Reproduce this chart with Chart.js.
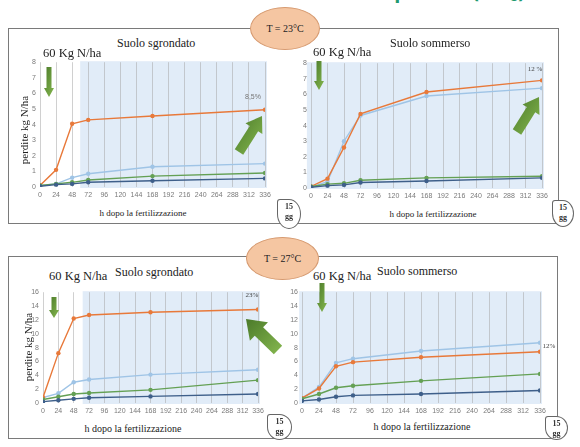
<!DOCTYPE html>
<html lang="it">
<head>
<meta charset="UTF-8">
<title>Perdite kg N/ha - 23°C e 27°C</title>
<script src="https://cdn.jsdelivr.net/npm/chart.js"></script>
<style>
    * { margin: 0; padding: 0; box-sizing: border-box; }
    body { background: #fff; width: 580px; height: 447px; overflow: hidden; }
    #stage { position: relative; width: 580px; height: 447px; overflow: hidden; font-family: 'Liberation Serif', serif; color: #222; }
    .abs { position: absolute; }
    .box { position: absolute; border: 1px solid #7a7a7a; }
    .head { position: absolute; right: 55px; top: -19px; font: bold 20px 'Open Sans', sans-serif; line-height: 20px; color: #1f9a70; white-space: nowrap; }
    .temp { position: absolute; border: 1px solid #d69a70; background: #f5c6a2; border-radius: 50%; font-size: 10px; display: flex; align-items: center; justify-content: center; }
    .lbl { position: absolute; white-space: nowrap; line-height: 1; }
    .dose { font-size: 12.5px; }
    .title { font-size: 12px; }
    .ytitle { font-size: 11px; transform: translate(-50%, -50%) rotate(-90deg); }
    .xtitle { transform: translate(-50%, -50%); }
    .pct { font-size: 7px; transform: translate(-50%, -50%); }
    .badge { position: absolute; background: #fff; border: 1px solid #666; border-radius: 3px 50% 50% 50%; font-size: 8px; font-weight: bold; text-align: center; line-height: 10px; padding-top: 2px; color: #333; }
    canvas { position: absolute; }
</style>
</head>
<body>
<div id="stage">
    <div class="head">Volatilizzazione: perdite (NH₃)</div>

    <div class="box" style="left:8px;top:28px;width:551px;height:196px"></div>
    <div class="box" style="left:8px;top:256px;width:550px;height:183px"></div>

    <canvas id="c23sgr" width="251" height="151" style="left:24px;top:54px"></canvas>
    <canvas id="c23som" width="257" height="151" style="left:295px;top:55px"></canvas>
    <canvas id="c27sgr" width="241" height="137" style="left:27px;top:284px"></canvas>
    <canvas id="c27som" width="264" height="137" style="left:286px;top:284px"></canvas>

    <div class="temp" style="left:250px;top:7px;width:70px;height:43px">T = 23°C</div>
    <div class="temp" style="left:246px;top:237px;width:73px;height:43px">T = 27°C</div>

    <!-- 23 °C -->
    <div class="lbl title" style="left:117px;top:37px">Suolo sgrondato</div>
    <div class="lbl dose" style="left:43px;top:47px">60 Kg N/ha</div>
    <div class="lbl title" style="left:390px;top:37px">Suolo sommerso</div>
    <div class="lbl dose" style="left:313px;top:46px">60 Kg N/ha</div>
    <div class="lbl ytitle" style="left:24px;top:130px">perdite kg N/ha</div>
    <div class="lbl xtitle" style="left:143px;top:213px;font-size:9px">h dopo la fertilizzazione</div>
    <div class="lbl xtitle" style="left:433px;top:214px;font-size:9px">h dopo la fertilizzazione</div>
    <div class="lbl pct" style="left:253px;top:96px;font-family:'Liberation Sans',sans-serif;color:#777">8,5%</div>
    <div class="lbl pct" style="left:535px;top:69px;color:#444">12 %</div>
    <div class="badge" style="left:277px;top:199px;width:24px;height:30px">15<br>gg</div>
    <div class="badge" style="left:552px;top:200px;width:22px;height:27px">15<br>gg</div>

    <!-- 27 °C -->
    <div class="lbl dose" style="left:49px;top:270px">60 Kg N/ha</div>
    <div class="lbl title" style="left:115px;top:266px">Suolo sgrondato</div>
    <div class="lbl dose" style="left:313px;top:270px">60 Kg N/ha</div>
    <div class="lbl title" style="left:377px;top:265px">Suolo sommerso</div>
    <div class="lbl ytitle" style="left:28px;top:347px">perdite kg N/ha</div>
    <div class="lbl xtitle" style="left:133px;top:429px;font-size:10px">h dopo la fertilizzazione</div>
    <div class="lbl xtitle" style="left:422px;top:427px;font-size:10px">h dopo la fertilizzazione</div>
    <div class="lbl pct" style="left:252px;top:295px;color:#444">23%</div>
    <div class="lbl pct" style="left:549px;top:346px;color:#444">12%</div>
    <div class="badge" style="left:267px;top:414px;width:25px;height:26px">15<br>gg</div>
    <div class="badge" style="left:545px;top:416px;width:23px;height:24px">15<br>gg</div>

    <svg id="arrows" class="abs" width="580" height="447" style="left:0;top:0">
        <defs>
            <linearGradient id="grn" x1="0" y1="0" x2="1" y2="1">
                <stop offset="0" stop-color="#4b7a2a"/>
                <stop offset="1" stop-color="#86b84f"/>
            </linearGradient>
        </defs>
    </svg>
</div>

<script>
    // ore dopo la fertilizzazione
    const hours = [0, 24, 48, 72, 168, 336];

    // T = 23 °C, suolo sgrondato
    const sgr23Arancio = [0.1, 1.1, 4.05, 4.3, 4.55, 4.95];
    const sgr23Azzurro = [0.1, 0.2, 0.6, 0.85, 1.3, 1.5];
    const sgr23Verde = [0.1, 0.2, 0.3, 0.45, 0.7, 0.9];
    const sgr23Blu = [0.05, 0.15, 0.2, 0.3, 0.4, 0.55];

    // T = 23 °C, suolo sommerso
    const som23Arancio = [0.1, 0.6, 2.6, 4.75, 6.15, 6.9];
    const som23Azzurro = [0.05, 0.4, 3.0, 4.65, 5.9, 6.4];
    const som23Verde = [0.1, 0.25, 0.3, 0.5, 0.65, 0.75];
    const som23Blu = [0.05, 0.15, 0.2, 0.35, 0.45, 0.65];

    // T = 27 °C, suolo sgrondato
    const sgr27Arancio = [0.8, 7.2, 12.2, 12.7, 13.1, 13.5];
    const sgr27Azzurro = [0.8, 1.4, 3.0, 3.4, 4.1, 4.8];
    const sgr27Verde = [0.5, 0.9, 1.3, 1.45, 1.9, 3.3];
    const sgr27Blu = [0.2, 0.4, 0.6, 0.75, 0.95, 1.3];

    // T = 27 °C, suolo sommerso
    const som27Arancio = [0.7, 2.1, 5.3, 5.9, 6.6, 7.4];
    const som27Azzurro = [0.7, 2.3, 5.8, 6.4, 7.5, 8.7];
    const som27Verde = [0.6, 1.3, 2.2, 2.5, 3.2, 4.2];
    const som27Blu = [0.3, 0.5, 0.9, 1.1, 1.3, 1.8];

    const ARANCIO = '#e8793a', AZZURRO = '#9fc4e6', VERDE = '#64a054', BLU = '#3e5f8a';

    // fondo azzurro dietro la griglia
    const shadePlugin = {
        id: 'shade',
        beforeDraw(chart, args, opts) {
            const a = chart.chartArea;
            const x0 = chart.scales.x.getPixelForValue(opts.from);
            const ctx = chart.ctx;
            ctx.save();
            ctx.fillStyle = '#e1ecf8';
            ctx.fillRect(x0, a.top - 1, a.right + 2 - x0, a.bottom - a.top + 2);
            ctx.restore();
        }
    };

    function serie(values, color) {
        return {
            data: hours.map((h, i) => ({ x: h, y: values[i] })),
            borderColor: color,
            backgroundColor: color,
            borderWidth: 1.4,
            pointRadius: 2.2,
            pointBorderWidth: 0,
            tension: 0
        };
    }

    function lineChart(id, arancio, azzurro, verde, blu, yMax, yStep, shadeFrom) {
        new Chart(document.getElementById(id), {
            type: 'line',
            data: {
                datasets: [serie(blu, BLU), serie(verde, VERDE), serie(arancio, ARANCIO), serie(azzurro, AZZURRO)]
            },
            options: {
                responsive: false,
                animation: false,
                layout: { padding: { top: 4, right: 10, left: 0, bottom: 0 } },
                plugins: { legend: { display: false }, tooltip: { enabled: false }, shade: { from: shadeFrom } },
                scales: {
                    x: {
                        type: 'linear', min: 0, max: 336,
                        ticks: { stepSize: 24, color: '#7a7a7a', font: { size: 7 }, padding: 4, maxRotation: 0, autoSkip: false },
                        grid: { color: 'rgba(170,170,170,0.55)', drawTicks: false },
                        border: { display: false },
                        afterFit(s) { s.height = 18; }
                    },
                    y: {
                        min: 0, max: yMax,
                        ticks: { stepSize: yStep, color: '#7a7a7a', font: { size: 7 }, padding: 4 },
                        grid: { display: false, drawTicks: false },
                        border: { display: false },
                        afterFit(s) { s.width = 16; }
                    }
                }
            },
            plugins: [shadePlugin]
        });
    }

    Chart.defaults.font.family = "'Liberation Sans', sans-serif";

    lineChart('c23sgr', sgr23Arancio, sgr23Azzurro, sgr23Verde, sgr23Blu, 8, 1, 60);
    lineChart('c23som', som23Arancio, som23Azzurro, som23Verde, som23Blu, 8, 1, -6);
    lineChart('c27sgr', sgr27Arancio, sgr27Azzurro, sgr27Verde, sgr27Blu, 16, 2, 62);
    lineChart('c27som', som27Arancio, som27Azzurro, som27Verde, som27Blu, 16, 2, -4);

    // frecce verdi
    function arrow(x1, y1, x2, y2, shaft, head, headLen) {
        const dx = x2 - x1, dy = y2 - y1, len = Math.hypot(dx, dy);
        const ux = dx / len, uy = dy / len, nx = -uy, ny = ux;
        const bx = x2 - ux * headLen, by = y2 - uy * headLen;
        const p = [
            [x1 + nx * shaft / 2, y1 + ny * shaft / 2],
            [bx + nx * shaft / 2, by + ny * shaft / 2],
            [bx + nx * head / 2, by + ny * head / 2],
            [x2, y2],
            [bx - nx * head / 2, by - ny * head / 2],
            [bx - nx * shaft / 2, by - ny * shaft / 2],
            [x1 - nx * shaft / 2, y1 - ny * shaft / 2]
        ];
        const poly = document.createElementNS('http://www.w3.org/2000/svg', 'polygon');
        poly.setAttribute('points', p.map(q => q.join(',')).join(' '));
        poly.setAttribute('fill', 'url(#grn)');
        document.getElementById('arrows').appendChild(poly);
    }

    arrow(49, 67, 49, 97, 5, 10, 9);
    arrow(239, 152, 262, 116, 10, 20, 15);
    arrow(319, 61, 319, 90, 5, 10, 9);
    arrow(517, 132, 539, 97, 10, 20, 15);
    arrow(54, 297, 54, 318, 5, 10, 8);
    arrow(278, 350, 246, 319, 12, 26, 18);
    arrow(322, 283, 322, 312, 5, 10, 9);
</script>
</body>
</html>
